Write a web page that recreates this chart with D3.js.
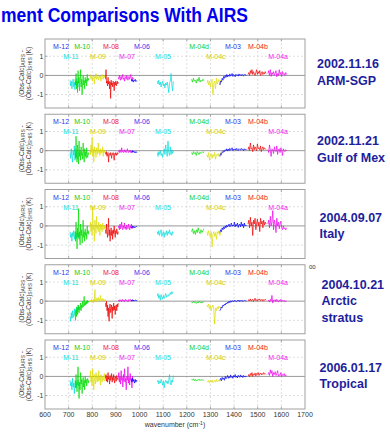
<!DOCTYPE html>
<html>
<head>
<meta charset="utf-8">
<script src="https://cdn.jsdelivr.net/npm/d3@7"></script>
<style>
  html, body { margin: 0; padding: 0; background: #fff; }
  svg { display: block; font-family: Arial, 'Liberation Sans', sans-serif; }
</style>
</head>
<body>
<svg id="chart" width="390" height="432"></svg>
<script>
// spectral bands (wavenumber range in cm-1), drawn in this order
const bandNames  = ['M-11', 'M-10', 'M-09', 'M-08', 'M-07', 'M-06', 'M-05', 'M-04d', 'M-04c', 'M-03', 'M-04b', 'M-04a'];
const bandStart  = [706, 727, 790, 856, 910, 965, 1075, 1220, 1285, 1340, 1459, 1543];
const bandEnd    = [745, 785, 858, 910, 975, 990, 1143, 1272, 1347, 1453, 1535, 1622];
const bandColors = ['#00dddd', '#00dd00', '#dddd00', '#ee0000', '#ee00ee', '#0000ff',
                    '#00dddd', '#00dd00', '#dddd00', '#0000ff', '#ee0000', '#ee00ee'];

// channel labels: name, wavenumber of label centre, row
const labelNames   = ['M-12', 'M-11', 'M-10', 'M-09', 'M-08', 'M-07', 'M-06', 'M-05', 'M-04d', 'M-04c', 'M-03', 'M-04b', 'M-04a'];
const labelCenters = [668, 710, 757, 824, 879, 947, 1010, 1099, 1252, 1323, 1395, 1501, 1586];
const labelRows    = [0, 1, 0, 1, 0, 1, 0, 1, 0, 1, 0, 0, 1];
const labelColors  = ['#3333ee', '#11dddd', '#11cc11', '#cccc11', '#ee2222', '#ee22ee', '#3333ee',
                      '#11dddd', '#11cc11', '#cccc11', '#3333ee', '#ee2222', '#ee22ee'];

const caseDates = ['2002.11.16', '2002.11.21', '2004.09.07', '2004.10.21', '2006.01.17'];
const caseNames = [['ARM-SGP'], ['Gulf of Mex'], ['Italy'], ['Arctic', 'stratus'], ['Tropical']];

const xTicks = [600, 700, 800, 900, 1000, 1100, 1200, 1300, 1400, 1500, 1600, 1700];
const yTicks = [-1, 0, 1];

// Obs-Calc differences (K), one array per band, in bandNames order
const armSgp = [
  [-0.25,-0.55,-0.3,-0.7,-0.4,-0.2,-0.6,-0.35,-0.75,-0.3,-0.5,-0.15,-0.45,-0.6,-0.3,-0.4],
  [-0.2,-0.5,0.1,-0.7,-0.3,-0.9,0.25,-0.4,-0.1,-0.8,-0.3,0.3,-0.6,-0.2,-1.0,-0.35,0.0,-0.5,-0.25,-0.7,-0.1,-0.4,-0.2,-0.55,0.05,-0.3,-0.15,-0.25],
  [-0.05,-0.15,0.05,-0.2,-0.1,-0.3,0.0,-0.1,-0.45,-0.05,-0.15,0.1,-0.2,-0.1,-0.05,-0.25,-0.1,0.0,-0.15,-0.05,-0.3,-0.1,0.05,-0.1,-0.2,-0.05,-0.12,0.0,-0.08,-0.1],
  [-0.2,0.3,-0.4,-0.3,-0.55,-0.1,-0.45,-0.3,-0.7,-0.35,-1.2,-0.25,-0.5,-0.4,-0.6,-0.3,-0.45,-0.8,-0.35,-0.5,-0.3,-0.55,-0.4,-0.3,-0.45,-0.35],
  [-0.1,-0.2,0.0,-0.15,-0.25,-0.05,-0.2,-0.1,0.05,-0.2,-0.15,-0.3,-0.05,-0.1,-0.2,0.0,-0.15,-0.25,-0.1,-0.05,-0.2,-0.1,0.05,-0.15,-0.3,-0.1,-0.2,-0.15],
  [-0.2,-0.3,-0.22,-0.35,-0.25,-0.3,-0.2,-0.32,-0.28,-0.3],
  [-0.3,-0.45,-0.25,-0.5,-0.35,-0.6,-0.4,-0.3,-0.55,-0.45,-0.65,-0.4,-0.5,-0.35,-0.6,-0.9,-0.4,-0.3,0.1,-0.5,-0.8,-0.3],
  [-0.2,-0.35,-0.15,-0.3,-0.25,-0.4,-0.2,-0.3,-0.1,-0.35,-0.25,-0.3,-0.2,-0.28],
  [-0.4,-0.25,-0.5,-0.3,-0.6,-0.35,-0.2,-1.0,-0.4,-0.3,-0.7,-0.15,-0.45,-0.3,-0.2,-0.5,-0.25,-0.35],
  [-0.5,-0.3,-0.35,-0.15,-0.25,-0.05,-0.15,0.0,-0.1,0.05,-0.08,0.02,-0.05,0.08,-0.03,0.0,0.1,-0.05,0.05,0.0,-0.07,0.06,0.0,0.03,-0.04,0.08,0.0,0.04,-0.02,0.06,0.0,-0.03,0.05,0.01,0.04,0.0],
  [0.05,0.15,0.0,0.25,0.1,0.3,0.05,0.2,0.1,0.0,0.15,0.3,0.05,0.2,0.1,0.25,0.0,0.1,0.2,0.05,0.15,0.08,0.2,0.1],
  [0.1,0.25,0.0,0.3,-0.05,0.15,0.05,0.2,0.0,0.1,0.25,-0.07,0.1,0.0,0.3,0.05,0.15,-0.05,0.2,0.05,0.1,0.0,0.15,0.05]
];

const gulfMex = [
  [-0.1,-0.4,0.1,-0.3,-0.6,0.0,-0.25,0.25,-0.5,-0.15,-0.35,0.05,-0.45,-0.2,-0.1,-0.3],
  [0.1,-0.4,0.75,-0.2,-0.6,0.3,-0.1,-0.7,0.5,-0.3,0.0,-0.5,0.2,-0.25,-0.1,-0.45,0.4,-0.2,-0.6,0.1,-0.3,-0.05,-0.4,0.15,-0.2,-0.35,-0.1,-0.2],
  [0.0,-0.2,0.3,-0.1,0.7,-0.3,0.1,-0.6,0.2,-0.1,0.0,-0.35,0.15,-0.05,-0.2,0.4,-0.1,0.05,-0.25,0.1,-0.15,0.0,-0.1,0.2,-0.3,0.05,-0.1,0.0,-0.15,-0.05],
  [-0.1,-0.2,-0.05,-0.3,-0.15,-0.1,-0.6,-0.2,-0.15,-0.25,-0.1,-0.2,-0.4,-0.15,-0.2,-0.1,-0.25,-0.5,-0.15,-0.2,-0.1,-0.25,-0.15,-0.2,-0.1,-0.15],
  [-0.05,0.0,-0.1,0.05,-0.05,-0.1,0.15,-0.05,0.0,-0.1,-0.05,0.05,-0.08,0.0,-0.1,-0.03,0.1,-0.05,-0.1,0.0,-0.06,0.02,-0.1,-0.04,0.0,-0.08,-0.03,-0.06],
  [-0.05,-0.1,0.0,-0.08,-0.03,-0.1,-0.05,-0.12,-0.06,-0.08],
  [-0.1,-0.3,-0.05,-0.2,0.0,-0.25,-0.15,-0.35,-0.1,0.1,-0.2,0.3,-0.05,-0.3,0.5,-0.1,-0.25,0.2,-0.2,0.05,-0.15,0.0],
  [-0.1,-0.2,-0.05,-0.15,-0.1,-0.25,-0.05,-0.12,-0.2,-0.08,-0.15,-0.1,-0.05,-0.12],
  [-0.2,-0.35,-0.1,-0.5,-0.25,-0.15,-0.4,-0.2,-0.3,-0.1,-0.45,-0.2,-0.25,-0.15,-0.3,-0.2,-0.1,-0.25],
  [-0.3,-0.15,-0.2,-0.05,-0.1,0.0,-0.05,0.05,0.0,0.1,-0.02,0.08,0.0,0.12,0.03,0.06,0.15,0.0,0.08,0.04,0.1,0.02,0.12,0.05,0.0,0.1,0.06,0.03,0.12,0.05,0.08,0.0,0.1,0.04,0.07,0.05],
  [0.05,0.2,0.0,0.4,0.1,0.15,-0.05,0.3,0.05,0.2,0.1,0.0,0.35,0.1,0.15,0.05,0.25,-0.05,0.1,0.2,0.05,0.15,0.1,0.05],
  [0.05,-0.1,0.3,0.0,-0.3,0.1,0.05,-0.15,0.2,0.0,-0.05,0.25,-0.2,0.05,0.1,-0.1,0.15,0.0,-0.25,0.1,0.0,-0.05,0.05,0.0]
];

const italy = [
  [-0.3,-0.6,-0.4,-0.8,-0.35,-0.55,-0.25,-0.7,-0.45,-0.3,-0.65,-0.4,-0.5,-0.35,-0.6,-0.4],
  [-0.3,-0.8,0.2,-0.5,-1.2,-0.1,-0.6,0.9,-0.7,-0.3,-1.0,0.1,-0.5,-0.2,-0.9,-0.4,0.3,-0.6,-0.3,-0.8,-0.15,-0.5,-0.35,-0.7,0.0,-0.4,-0.25,-0.45],
  [-0.1,0.2,-0.3,0.1,-0.5,1.0,-0.2,0.0,-0.8,0.3,-0.1,-0.4,0.5,-0.15,0.0,-0.3,0.2,-0.1,-0.5,0.1,-0.2,0.05,-0.3,0.15,-0.1,-0.2,0.0,-0.15,-0.05,-0.1],
  [-0.2,-0.4,0.1,-0.3,-0.6,-0.1,0.4,-0.5,-0.2,-0.8,-0.3,-0.1,-0.5,-0.25,-0.7,-0.2,-0.4,0.0,-0.35,-0.6,-0.25,-0.4,-0.15,-0.3,-0.45,-0.3],
  [-0.1,0.0,-0.2,0.1,-0.15,-0.05,0.2,-0.1,-0.2,0.0,-0.1,0.15,-0.15,-0.05,-0.2,0.05,-0.1,-0.15,0.1,-0.05,-0.2,0.0,-0.1,0.1,-0.15,-0.05,-0.1,-0.08],
  [-0.05,-0.1,0.0,-0.08,-0.02,-0.1,-0.05,-0.07,-0.03,-0.06],
  [-0.3,-0.45,-0.25,-0.5,-0.35,-0.2,-0.55,-0.4,-0.3,-0.6,-0.35,-0.45,-0.25,-0.5,-0.3,-0.4,-0.2,-0.45,-0.35,-0.5,-0.3,-0.4],
  [-0.3,-0.15,-0.4,-0.25,-0.45,-0.2,-0.35,-0.1,-0.3,-0.4,-0.2,-0.35,-0.25,-0.15],
  [-0.3,-0.5,-0.25,-0.4,-0.6,-0.3,-1.1,-0.45,-0.3,-0.55,-0.35,-0.7,-0.3,-0.4,-0.25,-0.5,-0.35,-0.3],
  [-0.35,-0.2,-0.3,-0.1,-0.2,-0.05,-0.15,0.0,-0.1,0.05,-0.05,0.0,0.1,-0.05,0.02,0.15,-0.02,0.05,0.0,0.2,-0.05,0.08,0.0,0.15,-0.08,0.05,0.1,-0.05,0.2,0.0,0.1,-0.1,0.15,0.0,0.05,0.02],
  [0.1,0.3,-0.1,0.45,0.0,0.2,-0.5,0.3,0.1,0.4,-0.2,0.15,0.35,0.0,0.2,-0.3,0.4,0.1,0.25,-0.1,0.3,0.05,0.2,0.1],
  [0.1,0.3,-0.1,0.5,0.0,0.2,0.8,-0.2,0.3,0.1,-0.35,0.4,0.0,0.2,-0.15,0.1,0.25,-0.1,-0.2,0.0,-0.15,-0.1,-0.2,-0.1]
];

const arcticStratus = [
  [-0.8,-1.05,-0.6,-0.9,-0.5,-0.85,-0.7,-0.4,-0.75,-0.5,-0.6,-0.3,-0.55,-0.2,-0.45,-0.35],
  [-0.6,-1.0,-0.4,-0.8,-0.3,-0.7,-0.5,-0.2,-0.6,-0.3,-0.45,-0.1,-0.5,-0.2,-0.35,0.0,-0.3,-0.1,0.25,-0.25,-0.05,-0.2,0.0,-0.15,0.05,-0.1,0.0,-0.05],
  [0.0,0.05,-0.05,0.1,0.0,0.05,-0.1,0.1,0.0,0.6,0.05,0.0,0.15,-0.05,0.1,0.2,0.0,0.1,0.05,0.3,0.0,0.1,0.05,0.15,0.0,0.1,0.05,0.0,0.1,0.05],
  [-0.1,-0.3,0.0,-0.5,-0.2,-0.8,-0.35,-1.05,-0.3,-0.15,-0.6,-0.4,-0.2,-0.9,-0.3,-0.5,-0.1,-0.45,-0.25,-0.7,-0.3,-0.2,-0.5,-0.15,-0.3,-0.1],
  [0.0,0.05,-0.02,0.08,0.0,0.03,-0.03,0.1,0.02,0.0,0.06,-0.02,0.04,0.1,0.0,0.05,0.02,-0.03,0.08,0.0,0.04,0.1,0.02,0.0,0.06,0.03,0.0,0.05],
  [0.05,0.0,0.08,0.02,0.06,0.0,0.04,0.07,0.02,0.05],
  [0.25,0.4,0.15,0.3,0.05,0.35,0.2,0.1,0.3,0.15,0.25,0.4,0.2,0.3,0.25,0.35,0.3,0.45,0.35,0.5,0.4,0.45],
  [-0.05,-0.1,0.0,-0.08,-0.03,-0.12,-0.05,-0.1,0.0,-0.07,-0.04,-0.1,-0.02,-0.06],
  [-0.2,-0.3,-0.15,-0.4,-0.25,-0.5,-0.3,-0.2,-0.45,-1.2,-0.35,-0.5,-0.3,-0.4,-0.25,-0.35,-0.3,-0.4],
  [-0.5,-0.4,-0.3,-0.35,-0.2,-0.25,-0.15,-0.2,-0.1,-0.15,-0.05,-0.1,0.0,-0.08,0.02,-0.05,0.03,0.0,-0.04,0.05,0.0,0.02,-0.03,0.04,0.0,0.06,-0.02,0.03,0.0,0.05,-0.02,0.02,0.04,0.0,0.03,0.01],
  [0.0,0.08,0.02,0.12,0.0,0.05,0.1,-0.02,0.06,0.15,0.03,0.08,0.0,0.1,0.05,0.12,0.02,0.06,0.1,0.0,0.08,0.04,0.1,0.05],
  [0.0,0.05,-0.05,0.1,0.0,0.3,-0.1,0.05,0.0,0.08,-0.03,0.1,0.02,-0.05,0.06,0.0,0.1,-0.02,0.04,0.0,0.05,-0.03,0.02,0.0]
];

const tropical = [
  [-0.2,-0.5,-0.3,-0.7,-0.1,-0.55,-0.35,-0.9,-0.4,-0.25,-0.6,-0.3,-0.45,-0.2,-0.5,-0.35],
  [-0.2,-0.6,0.1,-0.4,-0.8,-0.1,0.5,-0.5,-1.15,-0.3,-0.7,0.2,-0.4,-0.15,-0.9,-0.3,-0.05,-0.55,-0.2,-0.7,0.0,-0.35,-0.15,-0.5,-0.25,-0.1,-0.35,-0.2],
  [-0.1,0.3,-0.3,0.0,-0.5,0.4,-0.2,-0.7,0.1,-0.15,-0.4,0.2,-0.1,-0.3,0.05,-0.25,0.3,-0.2,-0.05,-0.45,0.1,-0.15,-0.3,0.0,-0.2,-0.1,0.15,-0.25,-0.1,-0.15],
  [-0.1,0.1,-0.25,0.0,-0.3,0.2,-0.15,-0.05,-0.4,0.05,-0.2,-0.1,0.15,-0.3,-0.05,-0.2,0.1,-0.15,-0.35,0.0,-0.1,-0.25,0.05,-0.15,-0.1,-0.2],
  [-0.1,0.2,-0.3,0.0,-0.4,0.3,-0.2,-0.05,-0.55,0.1,-0.25,0.4,-0.3,-0.1,-0.7,0.0,-0.2,0.5,-0.35,-0.05,-0.45,0.15,-0.2,-0.1,-0.6,0.0,-0.25,-0.15],
  [-0.15,-0.3,-0.1,-0.25,-0.2,-0.35,-0.15,-0.3,-0.2,-0.25],
  [-0.3,-0.2,-0.4,-0.25,-0.35,-0.15,-0.3,-0.45,-0.25,-0.6,-0.3,-0.2,-0.35,-0.25,-0.4,-0.2,0.1,-0.3,-0.45,-0.2,-0.3,0.05],
  [-0.15,-0.2,-0.12,-0.22,-0.15,-0.25,-0.18,-0.2,-0.14,-0.22,-0.16,-0.2,-0.18,-0.2],
  [-0.25,-0.3,-0.2,-0.35,-0.22,-0.3,-0.18,-0.32,-0.25,-0.2,-0.3,-0.15,-0.28,-0.2,-0.25,-0.18,-0.22,-0.2],
  [-0.2,-0.1,-0.22,-0.05,-0.15,-0.08,-0.2,0.0,-0.12,-0.05,0.05,-0.1,0.0,-0.08,0.08,-0.05,0.0,-0.1,0.05,-0.03,0.1,-0.05,0.02,-0.08,0.06,0.0,-0.05,0.08,-0.02,0.03,-0.06,0.05,0.0,-0.03,0.02,0.0],
  [0.0,0.1,-0.02,0.15,0.05,0.2,0.0,0.12,0.08,0.18,0.02,0.15,0.1,0.2,0.05,0.12,0.18,0.08,0.15,0.1,0.2,0.12,0.15,0.1],
  [0.1,0.2,0.05,0.35,0.15,0.3,0.0,0.2,0.1,0.25,0.05,0.15,0.3,0.0,0.1,0.05,0.2,0.0,0.1,0.05,0.15,0.02,0.08,0.05]
];

const panelValues = [armSgp, gulfMex, italy, arcticStratus, tropical];

const svg = d3.select('#chart');
const panelH = 69;      // panel height in px
const panelStep = 75.25; // distance between panel tops
const firstTop = 39;

const x = d3.scaleLinear().domain([600, 1700]).range([45, 305]);

// title (cut off at the left edge in the original slide)
svg.append('text')
  .attr('transform', 'translate(1,22) scale(1,1.15)')
  .style('font-size', '17.5px')
  .style('font-weight', 'bold')
  .style('fill', '#0000ee')
  .text('ment Comparisons With AIRS');

panelValues.forEach((vals, p) => {
  const top = firstTop + p * panelStep;
  const y = d3.scaleLinear().domain([-1.7, 1.9]).range([top + panelH, top]);
  const g = svg.append('g');

  // dashed grid
  g.selectAll('.vgrid').data(xTicks.slice(1, -1)).enter()
    .append('line')
    .attr('x1', d => x(d)).attr('x2', d => x(d))
    .attr('y1', top).attr('y2', top + panelH)
    .style('stroke', '#d0d0d0').style('stroke-width', 0.7)
    .style('stroke-dasharray', '2,2');
  g.selectAll('.hgrid').data([-1, 1]).enter()
    .append('line')
    .attr('x1', x(600)).attr('x2', x(1700))
    .attr('y1', d => y(d)).attr('y2', d => y(d))
    .style('stroke', '#d0d0d0').style('stroke-width', 0.7)
    .style('stroke-dasharray', '2,2');
  // zero line
  g.append('line')
    .attr('x1', x(600)).attr('x2', x(1700))
    .attr('y1', y(0)).attr('y2', y(0))
    .style('stroke', '#999').style('stroke-width', 1);

  // ticks pointing inward, top and bottom
  [top, top + panelH].forEach((yy, k) => {
    g.selectAll('.tick' + k).data(xTicks.slice(1, -1)).enter()
      .append('line')
      .attr('x1', d => x(d)).attr('x2', d => x(d))
      .attr('y1', yy).attr('y2', k === 0 ? yy + 2.5 : yy - 2.5)
      .style('stroke', '#888').style('stroke-width', 0.7);
  });
  g.selectAll('.ytick').data(yTicks).enter()
    .append('line')
    .attr('x1', x(600)).attr('x2', x(600) + 2.5)
    .attr('y1', d => y(d)).attr('y2', d => y(d))
    .style('stroke', '#888').style('stroke-width', 0.7);

  // spectra
  vals.forEach((v, b) => {
    const step = (bandEnd[b] - bandStart[b]) / (v.length - 1);
    const line = d3.line()
      .x((d, i) => x(bandStart[b] + i * step))
      .y(d => y(d));
    g.append('path')
      .attr('d', line(v))
      .style('fill', 'none')
      .style('stroke', bandColors[b])
      .style('stroke-width', 0.7);
  });

  // border
  g.append('rect')
    .attr('x', x(600)).attr('y', top)
    .attr('width', x(1700) - x(600)).attr('height', panelH)
    .style('fill', 'none').style('stroke', '#a0a0a0').style('stroke-width', 1);

  // band labels
  g.selectAll('.blabel').data(labelNames).enter()
    .append('text')
    .attr('x', (d, i) => x(labelCenters[i]))
    .attr('y', (d, i) => top + 10 + labelRows[i] * 10)
    .attr('text-anchor', 'middle')
    .style('font-size', '7px')
    .style('fill', (d, i) => labelColors[i])
    .text(d => d);

  // y tick labels
  g.selectAll('.ylabel').data(yTicks).enter()
    .append('text')
    .attr('x', 43.5)
    .attr('y', d => y(d) + 2.5)
    .attr('text-anchor', 'end')
    .style('font-size', '7px')
    .style('fill', '#333')
    .text(d => d);

  // y axis title, two rotated lines
  const cy = top + panelH / 2;
  const t1 = g.append('text')
    .attr('transform', `translate(23.5,${cy}) rotate(-90)`)
    .attr('text-anchor', 'middle')
    .style('font-size', '6.5px').style('fill', '#333');
  t1.append('tspan').text('(Obs-Calc)');
  t1.append('tspan').attr('dy', 1.8).style('font-size', '5px').text('AIRS');
  t1.append('tspan').attr('dy', -1.8).text(' -');
  const t2 = g.append('text')
    .attr('transform', `translate(30.5,${cy}) rotate(-90)`)
    .attr('text-anchor', 'middle')
    .style('font-size', '6.5px').style('fill', '#333');
  t2.append('tspan').text('(Obs-Calc)');
  t2.append('tspan').attr('dy', 1.8).style('font-size', '5px').text('SHIS');
  t2.append('tspan').attr('dy', -1.8).text(' (K)');

  // case description on the right
  const rx = p < 2 ? 317 : (p === 3 ? 321.5 : 319.5);
  const ry = [68, 145, 221.5, 288.5, 371.5][p];
  [caseDates[p]].concat(caseNames[p]).forEach((s, k) => {
    svg.append('text')
      .attr('x', rx).attr('y', ry + k * 16.5)
      .style('font-size', '12.5px')
      .style('font-weight', 'bold')
      .style('fill', '#1e1e9c')
      .text(s);
  });
});

// stray tick label fragment next to the 4th panel
svg.append('text')
  .attr('x', 309).attr('y', 269)
  .style('font-size', '6px').style('fill', '#333')
  .text('00');

// bottom x axis labels
const bottom = firstTop + 4 * panelStep + panelH;
svg.selectAll('.xlabel').data(xTicks).enter()
  .append('text')
  .attr('x', d => x(d))
  .attr('y', bottom + 7.5)
  .attr('text-anchor', 'middle')
  .style('font-size', '7px')
  .style('fill', '#333')
  .text(d => d);

const xt = svg.append('text')
  .attr('x', (x(600) + x(1700)) / 2)
  .attr('y', bottom + 18)
  .attr('text-anchor', 'middle')
  .style('font-size', '7px')
  .style('fill', '#333');
xt.append('tspan').text('wavenumber (cm');
xt.append('tspan').attr('dy', -2.5).style('font-size', '5px').text('-1');
xt.append('tspan').attr('dy', 2.5).text(')');
</script>
</body>
</html>
